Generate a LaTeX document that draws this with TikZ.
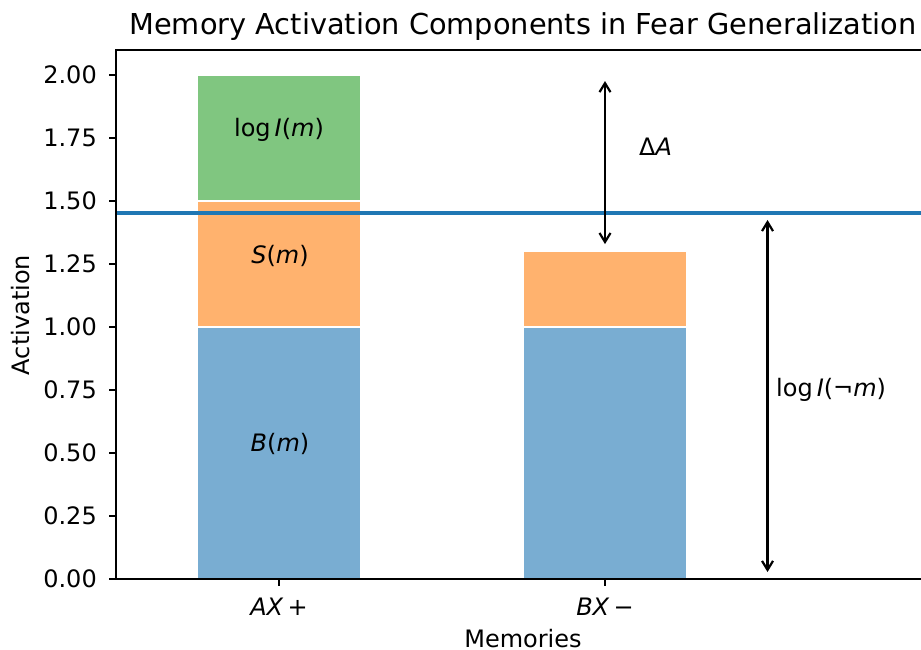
\documentclass[tikz,border=0pt]{standalone}
\usepackage{fontspec}
\setmainfont{DejaVu Sans}
\usetikzlibrary{arrows.meta}

\definecolor{barblue}{HTML}{79ADD2}
\definecolor{barorange}{HTML}{FFB26E}
\definecolor{bargreen}{HTML}{80C680}
\definecolor{lineblue}{HTML}{1F77B4}

\newcommand{\lbl}{\fontsize{24}{28}\selectfont}
\newcommand{\ttl}{\fontsize{28.8}{34}\selectfont}

\begin{document}
% data units: one x step between the two bars, one unit of activation
\begin{tikzpicture}[x=326pt, y=252pt,
  barpart/.style={draw=white, line width=1.4pt},
  spine/.style={line width=1.8pt, line cap=rect},
  tick/.style={line width=1.8pt},
  txt/.style={inner sep=0pt, font=\lbl},
  dim/.style={line width=2.2pt, {Straight Barb[length=9pt,width=11pt]}-{Straight Barb[length=9pt,width=11pt]}},
  thresh/.style={lineblue, line width=3.4pt}]
  \useasboundingbox (-0.8558,-0.2778) rectangle (1.9693,2.2976);

  % stacked bars
  \fill[barblue, barpart] (-0.25,0) rectangle (0.25,1.0);
  \fill[barorange, barpart] (-0.25,1.0) rectangle (0.25,1.5);
  \fill[bargreen, barpart] (-0.25,1.5) rectangle (0.25,2.0);
  \fill[barblue, barpart] (0.75,0) rectangle (1.25,1.0);
  \fill[barorange, barpart] (0.75,1.0) rectangle (1.25,1.3);

  % threshold line
  \draw[thresh] (-0.5,1.453) -- (1.9693,1.453);

  % axes frame
  \draw[spine] (1.9693,2.1) -- (-0.5,2.1) -- (-0.5,0) -- (1.9693,0);

  % y ticks and labels
  \foreach \v/\t in {0/0.00,0.25/0.25,0.5/0.50,0.75/0.75,1/1.00,1.25/1.25,1.5/1.50,1.75/1.75,2/2.00}{
    \draw[tick] (-0.5,\v) -- ++(-7.3pt,0);
    \node[txt, anchor=east] (yl\v) at (-0.5583,\v) {\t};
  }
  % x ticks and labels
  \draw[tick] (0,0) -- ++(0,-7.3pt);
  \draw[tick] (1,0) -- ++(0,-7.3pt);
  \node[txt, anchor=base] (xa) at (0,-0.1429) {\textit{AX}\,+};
  \node[txt, anchor=base] (xb) at (1,-0.1429) {\textit{BX}\,−};

  % axis titles and heading
  \node[txt, anchor=base] (xtitle) at (0.7485,-0.2705) {Memories};
  \node[txt, anchor=base, rotate=90] (ytitle) at (-0.7653,1.0476) {Activation};
  \node[inner sep=0pt, font=\ttl, anchor=base] (title) at (0.7485,2.1587) {Memory Activation Components in Fear Generalization};

  % component labels
  \node[txt, anchor=base] (lim) at (0,1.755) {log\,\textit{I}(\textit{m})};
  \node[txt, anchor=base] (sm) at (0.003,1.2528) {\textit{S}(\textit{m})};
  \node[txt, anchor=base] (bm) at (0.003,0.5067) {\textit{B}(\textit{m})};

  % dimension arrows
  \coordinate (da1) at (1,1.976);
  \coordinate (da2) at (1,1.329);
  \draw[dim] (da1) -- (da2);
  \coordinate (dn1) at (1.4985,1.4246);
  \coordinate (dn2) at (1.4985,0.0278);
  \draw[dim] (dn1) -- (dn2);
  \node[txt, anchor=base west] (dA) at (1.104,1.679) {Δ\textit{A}};
  \node[txt, anchor=base west] (lnm) at (1.5245,0.7234) {log\,\textit{I}(¬\textit{m})};
\end{tikzpicture}
\end{document}
